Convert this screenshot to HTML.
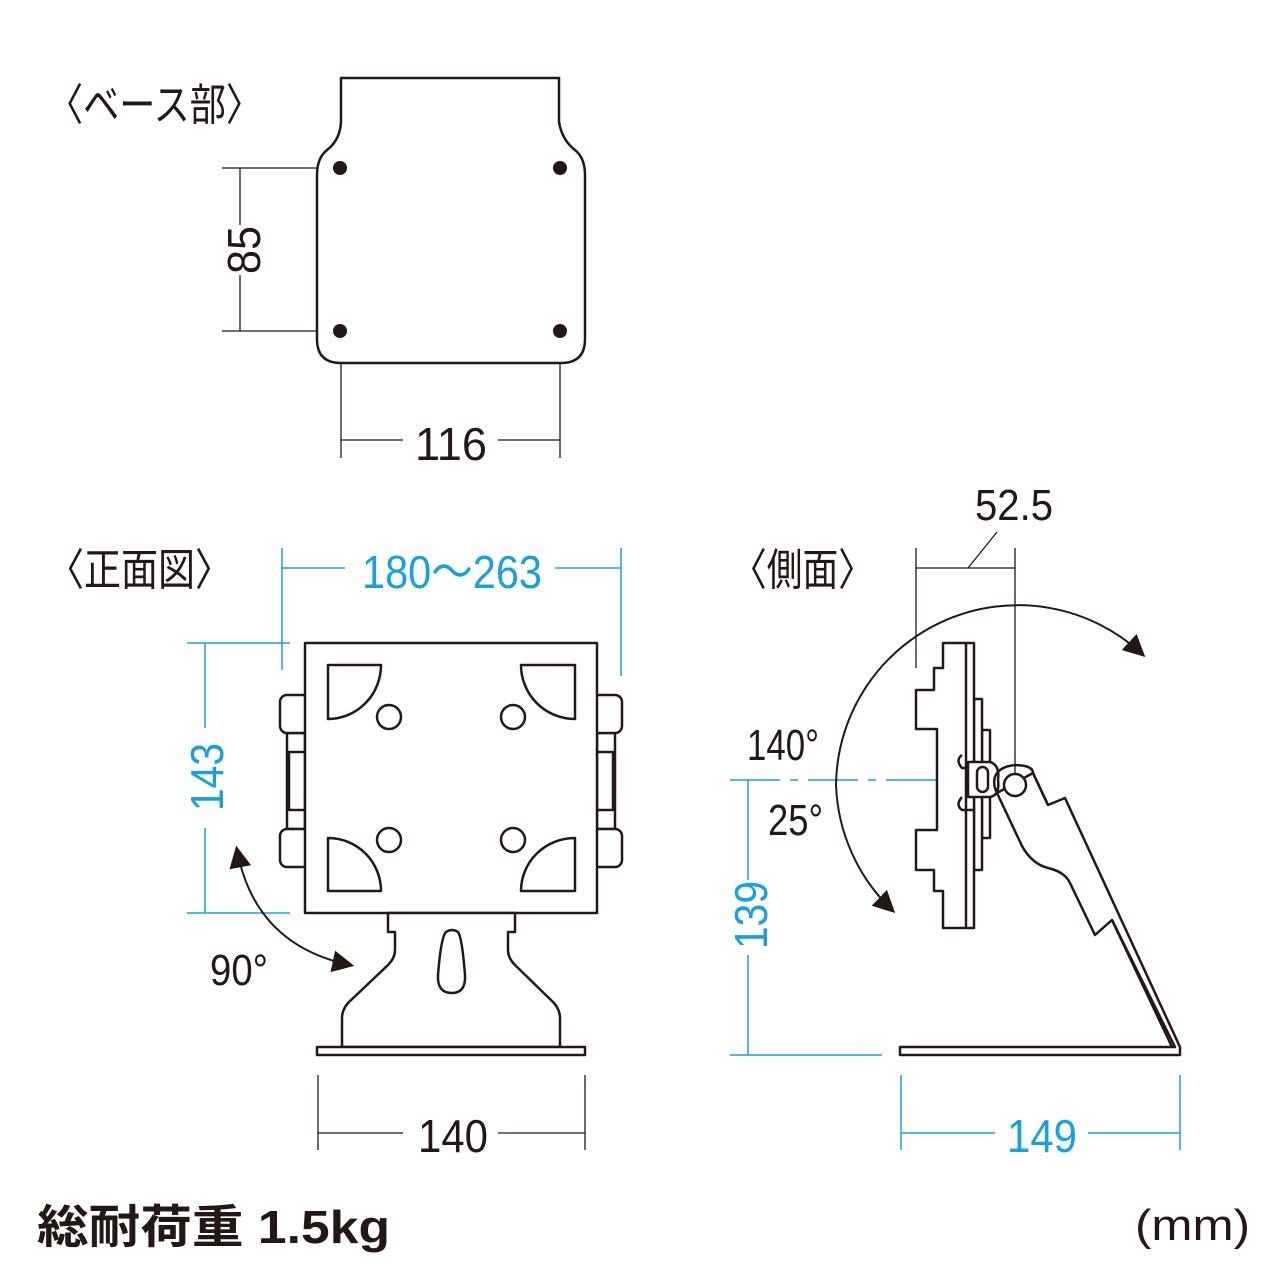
<!DOCTYPE html>
<html><head><meta charset="utf-8"><style>html,body{margin:0;padding:0;background:#fff}svg{display:block}</style></head><body>
<svg width="1280" height="1280" viewBox="0 0 1280 1280" xmlns="http://www.w3.org/2000/svg">
<defs>
<marker id="ah" viewBox="0 0 10 10" refX="8" refY="5" markerWidth="11" markerHeight="11" orient="auto-start-reverse"><path d="M0,0 L10,5 L0,10 z" fill="#231815"/></marker>
</defs>
<g font-family="Liberation Sans, 'Noto Sans CJK JP', sans-serif" fill="#231815">
<text x="47" y="120" font-size="44" textLength="215" lengthAdjust="spacingAndGlyphs">〈ベース部〉</text>
<text x="47" y="585" font-size="44" textLength="185" lengthAdjust="spacingAndGlyphs">〈正面図〉</text>
<text x="731" y="585" font-size="44" textLength="143" lengthAdjust="spacingAndGlyphs">〈側面〉</text>
<text transform="translate(260,250) rotate(-90)" text-anchor="middle" font-size="46" textLength="48" lengthAdjust="spacingAndGlyphs">85</text>
<text x="415" y="460" font-size="46" textLength="72" lengthAdjust="spacingAndGlyphs">116</text>
<text x="210" y="985" font-size="44" textLength="58" lengthAdjust="spacingAndGlyphs">90°</text>
<text x="418" y="1152" font-size="46" textLength="70" lengthAdjust="spacingAndGlyphs">140</text>
<text x="975" y="520" font-size="44" textLength="78" lengthAdjust="spacingAndGlyphs">52.5</text>
<text x="747" y="760" font-size="44" textLength="72" lengthAdjust="spacingAndGlyphs">140°</text>
<text x="768" y="835" font-size="44" textLength="55" lengthAdjust="spacingAndGlyphs">25°</text>
<text x="37" y="1243" font-size="46" font-weight="bold" textLength="353" lengthAdjust="spacingAndGlyphs">総耐荷重 1.5kg</text>
<text x="1135" y="1240" font-size="44" textLength="115" lengthAdjust="spacingAndGlyphs">(mm)</text>
</g>
<g font-family="Liberation Sans, sans-serif" fill="#1aa0e0">
<text x="362" y="588" font-size="46" textLength="180" lengthAdjust="spacingAndGlyphs">180〜263</text>
<text transform="translate(223,777) rotate(-90)" text-anchor="middle" font-size="46" textLength="68" lengthAdjust="spacingAndGlyphs">143</text>
<text transform="translate(767,915) rotate(-90)" text-anchor="middle" font-size="46" textLength="68" lengthAdjust="spacingAndGlyphs">139</text>
<text x="1007" y="1152" font-size="46" textLength="70" lengthAdjust="spacingAndGlyphs">149</text>
</g>

<g fill="none" stroke="#231815" stroke-width="2.5">
<path d="M341,78 L559,78 L559,122 Q562,140 575,150 Q585,158 585,175 L585,339 Q585,363 561,363 L341,363 Q317,363 317,339 L317,175 Q317,158 327,150 Q340,140 341,122 Z"/>
</g>
<g fill="#231815"><circle cx="340" cy="168" r="7"/><circle cx="560" cy="168" r="7"/><circle cx="340" cy="331" r="7"/><circle cx="560" cy="331" r="7"/></g>
<g stroke="#231815" stroke-width="1.3" fill="none">
<path d="M222,168H318M222,331H318M240,168V225M240,275V331"/>
<path d="M341,363V458M560,363V458M341,440H403M498,440H560"/>
<path d="M318,1075V1150M585,1075V1150M318,1133H403M498,1133H585"/>
<path d="M916,548V668M1015,548V785M916,568H1015M968,568L997,532"/>
</g>
<g stroke="#1aa0e0" stroke-width="1.5" fill="none">
<path d="M282,548V670M621,548V676M282,568H345M555,568H621"/>
<path d="M187,643H290M187,913H290M205,643V728M205,828V913"/>
<path d="M730,780H990" stroke-dasharray="50,10,8,10"/>
<path d="M748,780V880M748,955V1055M730,1055H882"/>
<path d="M901,1075V1150M1180,1075V1150M901,1133H995M1088,1133H1180"/>
</g>

<g fill="#fff" stroke="#231815" stroke-width="2.5" stroke-linejoin="round">
<rect x="287" y="733" width="18" height="96"/>
<rect x="289" y="752" width="16" height="58"/>
<rect x="280" y="695" width="30" height="38" rx="7"/>
<rect x="280" y="829" width="30" height="38" rx="7"/>
<rect x="597" y="733" width="18" height="96"/>
<rect x="597" y="752" width="16" height="58"/>
<rect x="592" y="695" width="30" height="38" rx="7"/>
<rect x="592" y="829" width="30" height="38" rx="7"/>
<rect x="305" y="643" width="292" height="270"/>
<path d="M328,665H381A53,54 0 0 1 328,719Z"/>
<path d="M575,665H521A54,54 0 0 0 575,719Z"/>
<path d="M328,891H381A53,53 0 0 0 328,838Z"/>
<path d="M575,891H521A54,53 0 0 1 575,838Z"/>
<circle cx="389" cy="717" r="12"/><circle cx="513" cy="717" r="12"/>
<circle cx="389" cy="840" r="12"/><circle cx="513" cy="840" r="12"/>
<path d="M388,913V932H395V950Q395,958 388,965L348,1003Q342,1010 342,1018V1047H560V1018Q560,1010 554,1003L515,965Q508,958 508,950V932H515V913Z"/>
<path d="M446,932Q452,928 458,932Q462,937 465,975Q466,993 452,993Q437,993 438,975Q441,937 446,932Z"/>
<rect x="317" y="1047" width="268" height="8"/>
</g>
<path d="M237,850 Q255,945 350,965" fill="none" stroke="#231815" stroke-width="2" marker-start="url(#ah)" marker-end="url(#ah)"/>

<path d="M1142,654 A182,182 0 0 0 836,784 A182,182 0 0 0 892,910" fill="none" stroke="#231815" stroke-width="2" marker-start="url(#ah)" marker-end="url(#ah)"/>
<g fill="#fff" stroke="#231815" stroke-width="2.5" stroke-linejoin="round">
<path d="M900,1047H1175L1112,920L1095,935L1070,883Q1065,872 1048,868Q1032,864 1022,846L997,793L1033,773L1048,805L1065,798L1180,1047V1055H900Z"/>
<path d="M1112,920L1172,1047" fill="none"/>
<rect x="982" y="730" width="8" height="108"/>
<rect x="974" y="699" width="8" height="171"/>
<path d="M934,668H943V643H974V928H943V891H934V870H916V830H937V729H916V690H934Z"/>
<path d="M966,643V928" fill="none"/>
<path d="M962,755Q955,760 962,768H975M962,797Q955,805 962,810H975" fill="none"/>
<path d="M968,762H990Q1000,765 998,780Q1000,795 990,797H968Z"/>
<rect x="977" y="767" width="11" height="25" rx="5.5"/>
<path d="M997,793Q990,778 1000,770Q1010,763 1025,766Q1033,768 1033,773L1048,805" fill="none"/>
<circle cx="1015" cy="785" r="11"/>
</g>
</svg>
</body></html>
